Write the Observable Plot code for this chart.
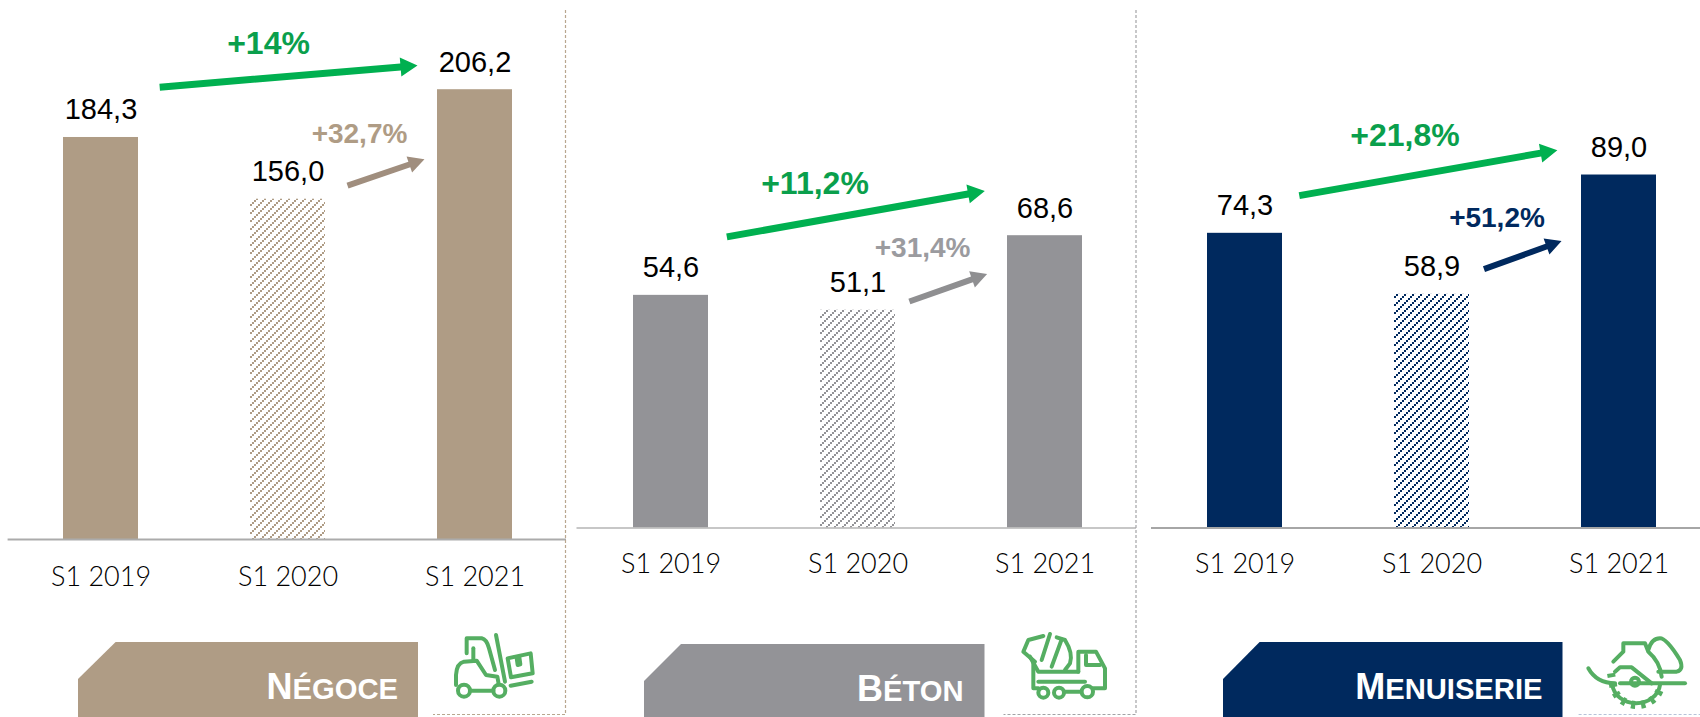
<!DOCTYPE html>
<html lang="fr">
<head>
<meta charset="utf-8">
<script src="https://cdn.jsdelivr.net/npm/d3@7"></script>
<script src="https://cdn.jsdelivr.net/npm/@observablehq/plot@0.6"></script>
<style>
html,body{margin:0;padding:0;background:#fff;}
#chart{position:relative;width:1700px;height:717px;overflow:hidden;background:#fff;}
#chart>svg,#chart>.decor{position:absolute;}
.banner{position:absolute;bottom:0;color:#fff;font:bold 29.2px "Liberation Sans",Arial,sans-serif;white-space:nowrap;}
.banner span{position:absolute;}
.banner b{font-size:36px;}
.icon path,.icon circle{fill:none;stroke:#55AE62;stroke-width:4px;vector-effect:non-scaling-stroke;stroke-linecap:round;stroke-linejoin:round;}
</style>
</head>
<body>
<div id="chart"></div>
<script>
const periods = ["S1 2019", "S1 2020", "S1 2021"];
const negoceValues = [184.3, 156.0, 206.2];
const betonValues = [54.6, 51.1, 68.6];
const menuiserieValues = [74.3, 58.9, 89.0];
const hatchedPeriod = "S1 2020";

// Growth arrows, in data units, from the centre of one bar to the centre of another
const negoceLong = [205.1, 219.5], negoceShort = [152.9, 182.2];
const betonLong = [66.0, 81.6], betonShort = [48.9, 64.4];
const menuiserieLong = [81.4, 98.0], menuiserieShort = [60.5, 77.6];

const green = "#00B050", greenText = "#0A9F4C";
const fmt = v => v.toFixed(1).replace(".", ",");

function filledArrow(shaft, headLen, headWidth) {
  return function (I, s, v, d, c, next) {
    const g = next(I, s, v, d, c);
    g.querySelectorAll("path").forEach(p => {
      const n = p.getAttribute("d").match(/-?\d+(\.\d+)?(e-?\d+)?/g).map(Number);
      const [x1, y1, x2, y2] = n;
      const L = Math.hypot(x2 - x1, y2 - y1), ux = (x2 - x1) / L, uy = (y2 - y1) / L, nx = -uy, ny = ux;
      const bx = x2 - ux * headLen, by = y2 - uy * headLen;
      const pt = (x, y) => `${x.toFixed(2)},${y.toFixed(2)}`;
      p.setAttribute("d", "M" + [
        pt(x1 + nx * shaft / 2, y1 + ny * shaft / 2),
        pt(bx + nx * shaft / 2, by + ny * shaft / 2),
        pt(bx + nx * headWidth / 2, by + ny * headWidth / 2),
        pt(x2, y2),
        pt(bx - nx * headWidth / 2, by - ny * headWidth / 2),
        pt(bx - nx * shaft / 2, by - ny * shaft / 2),
        pt(x1 - nx * shaft / 2, y1 - ny * shaft / 2)
      ].join("L") + "Z");
      p.setAttribute("fill", p.getAttribute("stroke") || p.parentNode.getAttribute("stroke"));
      p.setAttribute("stroke", "none");
    });
    return g;
  };
}

const panels = [
  {key:"n", left:0, width:570, ml:7.6, mr:4, range:[6.8,567.8], baseline:539, yMax:247.1, values:negoceValues, color:"#AF9C85",
   shortColor:"#A08E7E", shortText:"#AF9C85", axis:"#ABABAB", axisW:2.2, tickPad:27,
   long:negoceLong, longIn:[58.9,57.7], short:negoceShort, shortIn:[62.9,53.4],
   longLabel:"+14%", longPos:[222.6,-19.5], shortLabel:"+32,7%", shortPos:[181.7,71.5]},
  {key:"b", left:570, width:570, ml:6.5, mr:4, range:[7.1,568.1], baseline:527.5, yMax:123.8, values:betonValues, color:"#939397",
   shortColor:"#8F8F91", shortText:"#9B9B9F", axis:"#B5B5B5", axisW:1.6, tickPad:26,
   long:betonLong, longIn:[56.7,61.1], short:betonShort, shortIn:[54.5,61.4],
   longLabel:"+11,2%", longPos:[78.5,-43], shortLabel:"+31,4%", shortPos:[63.5,64.6]},
  {key:"m", left:1140, width:560, ml:11, mr:-12, range:[11,572], baseline:527.5, yMax:133, values:menuiserieValues, color:"#00295E",
   shortColor:"#00295E", shortText:"#00295E", axis:"#A6A6A6", axisW:2, tickPad:26,
   long:menuiserieLong, longIn:[55.1,62.6], short:menuiserieShort, shortIn:[55.3,61.1],
   longLabel:"+21,8%", longPos:[96.2,-27], shortLabel:"+51,2%", shortPos:[76,65]}
];

const chart = document.getElementById("chart");

for (const p of panels) {
  const rows = periods.map((period, i) => ({period, value: p.values[i]}));
  const pid = "hatch-" + p.key;
  const defs = () => {
    const d = d3.create("svg:defs");
    d.html(`<pattern id="${pid}" patternUnits="userSpaceOnUse" width="8" height="8">
      <path d="M0,6h2v2h-2zM2,4h2v2h-2zM4,2h2v2h-2zM6,0h2v2h-2z" fill="${p.color}" shape-rendering="crispEdges"/></pattern>`);
    return d.node();
  };
  const svg = Plot.plot({
    width: p.width, height: 717,
    marginLeft: p.ml, marginRight: p.mr, marginTop: 0, marginBottom: 717 - p.baseline,
    style: {background: "transparent", overflow: "visible", maxWidth: "none"},
    x: {domain: periods, range: p.range, paddingInner: 0.599, paddingOuter: 0.2995},
    y: {domain: [0, p.yMax], axis: null},
    marks: [
      defs,
      Plot.barY(rows.filter(r => r.period !== hatchedPeriod), {x: "period", y: "value", fill: p.color}),
      Plot.barY(rows.filter(r => r.period === hatchedPeriod), {x: "period", y: "value", fill: `url(#${pid})`}),
      Plot.ruleY([0], {stroke: p.axis, strokeWidth: p.axisW}),
      Plot.axisX({label: null, tickSize: 0, tickPadding: p.tickPad, fontSize: 27, fontFamily: "Lato", fontWeight: 300, fill: "#000"}),
      Plot.text(rows, {x: "period", y: "value", text: d => fmt(d.value), dy: -18, lineAnchor: "bottom",
        fontSize: 29, fontFamily: "Liberation Sans", fill: "#000"}),
      Plot.arrow([0], {x1: () => periods[0], x2: () => periods[2], y1: () => p.long[0], y2: () => p.long[1],
        stroke: green, strokeWidth: 7, insetStart: p.longIn[0], insetEnd: p.longIn[1], render: filledArrow(7, 17, 19)}),
      Plot.arrow([0], {x1: () => periods[1], x2: () => periods[2], y1: () => p.short[0], y2: () => p.short[1],
        stroke: p.shortColor, strokeWidth: 6, insetStart: p.shortIn[0], insetEnd: p.shortIn[1], render: filledArrow(6, 16, 17)}),
      Plot.text([p.longLabel], {x: () => periods[1], y: () => p.longPos[0], dx: p.longPos[1], text: d => d, lineAnchor: "bottom",
        fontSize: 32, fontWeight: "bold", fontFamily: "Liberation Sans", fill: greenText}),
      Plot.text([p.shortLabel], {x: () => periods[1], y: () => p.shortPos[0], dx: p.shortPos[1], text: d => d, lineAnchor: "bottom",
        fontSize: 28, fontWeight: "bold", fontFamily: "Liberation Sans", fill: p.shortText})
    ]
  });
  svg.style.left = p.left + "px";
  svg.style.top = "0";
  chart.appendChild(svg);
}

// Section banners
const banners = [
  {first:"N", rest:"ÉGOCE", x:78, x2:418, notch:115.6, top:642, notchY:679, color:"#AF9C85", right:398, base:697},
  {first:"B", rest:"ÉTON", x:644, x2:984.5, notch:681, top:644, notchY:681, color:"#939397", right:963.5, base:699},
  {first:"M", rest:"ENUISERIE", x:1223, x2:1562.5, notch:1259.6, top:642, notchY:679, color:"#00295E", right:1542.5, base:697}
];
for (const b of banners) {
  const w = b.x2 - b.x, h = 717 - b.top;
  const el = document.createElement("div");
  el.className = "banner";
  el.style.cssText = `left:${b.x}px;width:${w}px;height:${h}px;background:${b.color};clip-path:polygon(${b.notch - b.x}px 0,${w}px 0,${w}px ${h}px,0 ${h}px,0 ${b.notchY - b.top}px)`;
  el.innerHTML = `<span style="right:${b.x2 - b.right}px;bottom:${717 - b.base - 8}px;line-height:1"><b>${b.first}</b>${b.rest}</span>`;
  chart.appendChild(el);
}

// Dashed section frames and icons
const decor = d3.create("svg").attr("class", "decor").attr("width", 1700).attr("height", 717)
  .style("left", 0).style("top", 0).style("pointer-events", "none");
const dashes = [
  {d:"M565.5,10V714.5H433", c:"#B9A78F"},
  {d:"M1136,10V714.5H1003.5", c:"#A3A3A6"},
  {d:"M1578.6,714.5H1700", c:"#B7C3D9"}
];
decor.selectAll("path.d").data(dashes).join("path").attr("class", "d").attr("d", d => d.d)
  .attr("fill", "none").attr("stroke", d => d.c).attr("stroke-width", 1.2).attr("stroke-dasharray", "3 2");
const icons = [
  {x:440, y:620, w:110, shapes:`
    <path d="M80,100V55H125Q140,58 147,85L165,150"/>
    <path d="M100,85V118"/>
    <path d="M48,195V165Q50,130 72,125L110,122L138,165L172,170L176,192"/>
    <circle cx="72" cy="212" r="18"/><circle cx="178" cy="212" r="18"/>
    <path d="M90,212H160"/><path d="M168,45L195,185"/>
    <path d="M212,197L275,185"/>
    <path d="M203,115L272,100L278,160L213,172Z"/>
    <path d="M230,114L233,135L241,133L238,112"/>`},
  {x:1010, y:620, w:110, shapes:`
    <path d="M100,48L55,60L40,95L75,125"/>
    <path d="M120,42L95,120"/><path d="M155,58L125,140"/>
    <path d="M140,52L165,60Q190,100 180,130L165,150"/>
    <path d="M60,110L85,155H205"/>
    <path d="M205,155V95H258L285,145V205H250"/>
    <path d="M228,105V135H270"/>
    <path d="M70,130V205H85"/><path d="M85,185H225"/>
    <circle cx="100" cy="218" r="15"/><circle cx="147" cy="218" r="15"/><circle cx="232" cy="215" r="17"/>
    <path d="M165,215H213"/>`},
  {x:1580, y:620, w:120, shapes:`
    <path d="M100,125L130,95V70H195L205,95Q240,125 245,170"/>
    <path d="M205,90Q215,55 240,55Q260,55 300,120Q312,150 290,155H235"/>
    <path d="M120,190H315"/><path d="M25,145Q50,190 105,190"/>
    <path d="M105,155L120,142H155L215,190"/>
    <circle cx="165" cy="185" r="12"/>
    <path d="M97,195A72,62 0 0 0 240,195"/>
    <path d="M93,160L100,200A72,66 0 0 0 242,200" style="stroke-width:8px;stroke-dasharray:4 6;stroke-linecap:butt"/>`}
];
for (const ic of icons) {
  decor.append("svg").attr("class", "icon").attr("x", ic.x).attr("y", ic.y)
    .attr("width", ic.w).attr("height", 97).attr("viewBox", `0 0 ${ic.w * 3} 291`)
    .html(ic.shapes);
}
chart.appendChild(decor.node());
</script>
</body>
</html>
